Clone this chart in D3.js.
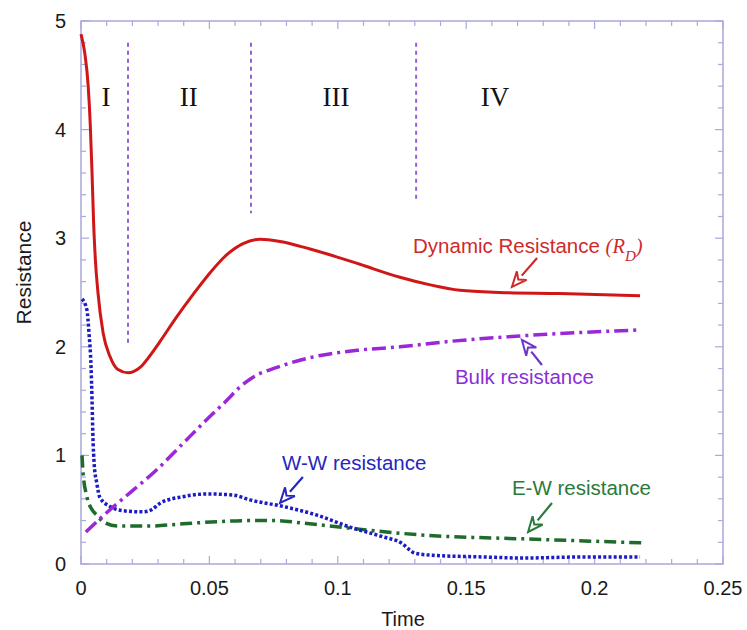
<!DOCTYPE html>
<html>
<head>
<meta charset="utf-8">
<script src="https://cdn.jsdelivr.net/npm/d3@7"></script>
<style>
  html, body { margin: 0; padding: 0; background: #fff; }
  svg { display: block; }
</style>
</head>
<body>
<svg id="chart" width="747" height="630"></svg>
<script>
// ---- data: time vs resistance for the four curves ----
const dynamicT = [0, 0.0015, 0.0028, 0.0036, 0.0043, 0.0049, 0.0056, 0.0066, 0.0086, 0.0113, 0.0144, 0.0183, 0.0230, 0.0269, 0.0308, 0.0374, 0.0436, 0.0502, 0.0569, 0.0631, 0.0697, 0.0775, 0.0892, 0.102, 0.1086, 0.1242, 0.136, 0.1476, 0.163, 0.1865, 0.2177];
const dynamicR = [4.88, 4.70, 4.40, 4.05, 3.60, 3.15, 2.80, 2.50, 2.13, 1.91, 1.79, 1.76, 1.81, 1.92, 2.05, 2.28, 2.48, 2.68, 2.85, 2.95, 2.99, 2.97, 2.90, 2.81, 2.76, 2.64, 2.57, 2.52, 2.50, 2.49, 2.47];

const bulkT = [0.0019, 0.0113, 0.0203, 0.0296, 0.0397, 0.049, 0.0569, 0.0619, 0.067, 0.0763, 0.0892, 0.1086, 0.1242, 0.1437, 0.171, 0.217];
const bulkR = [0.295, 0.50, 0.68, 0.87, 1.11, 1.33, 1.51, 1.63, 1.72, 1.81, 1.90, 1.97, 2.00, 2.05, 2.10, 2.155];

const wwT = [0.0004, 0.0023, 0.0031, 0.0039, 0.0043, 0.0046, 0.0052, 0.0061, 0.0074, 0.0113, 0.0164, 0.0243, 0.0275, 0.0308, 0.0397, 0.049, 0.0592, 0.0658, 0.0787, 0.0919, 0.1047, 0.1176, 0.125, 0.128, 0.130, 0.137, 0.1565, 0.172, 0.1955, 0.2177];
const wwR = [2.44, 2.34, 2.13, 1.82, 1.51, 1.21, 0.90, 0.75, 0.61, 0.53, 0.49, 0.48, 0.50, 0.56, 0.62, 0.645, 0.635, 0.59, 0.53, 0.45, 0.34, 0.25, 0.19, 0.13, 0.10, 0.08, 0.065, 0.055, 0.065, 0.065];

const ewT = [0.0004, 0.0008, 0.0023, 0.0043, 0.0062, 0.0086, 0.014, 0.0269, 0.0397, 0.053, 0.0658, 0.0763, 0.0853, 0.1047, 0.131, 0.174, 0.219];
const ewR = [1.0, 0.84, 0.62, 0.50, 0.45, 0.39, 0.35, 0.35, 0.37, 0.39, 0.40, 0.40, 0.38, 0.33, 0.27, 0.23, 0.195];

// stage boundaries (time) and stage names
const stageBounds = [0.0183, 0.0662, 0.1305];
const stageBoundBottoms = [2.0, 3.23, 3.35];
const stageNames = ["I", "II", "III", "IV"];
const stageNameT = [0.0097, 0.042, 0.0993, 0.1612];

// axis ticks
const xTicks = [0, 0.05, 0.1, 0.15, 0.2, 0.25];
const xTickLabels = ["0", "0.05", "0.1", "0.15", "0.2", "0.25"];
const yTicks = [0, 1, 2, 3, 4, 5];
const yTickLabels = ["0", "1", "2", "3", "4", "5"];

// ---- layout ----
const svg = d3.select("#chart");
const plot = { left: 81, right: 723, top: 21, bottom: 564 };

const x = d3.scaleLinear().domain([0, 0.25]).range([plot.left, plot.right]);
const y = d3.scaleLinear().domain([0, 5]).range([plot.bottom, plot.top]);

const axisColor = "#a9a9dc";
const sans = "'Liberation Sans', Arial, sans-serif";
const serif = "'Liberation Serif', 'Times New Roman', serif";

// frame
svg.append("rect")
  .attr("x", plot.left).attr("y", plot.top)
  .attr("width", plot.right - plot.left).attr("height", plot.bottom - plot.top)
  .attr("fill", "none").attr("stroke", axisColor).attr("stroke-width", 1.5);

// inward ticks on all four sides
const xMinor = d3.range(0, 0.2501, 0.01);
const yMinor = d3.range(0, 5.001, 0.2);
const tickG = svg.append("g").attr("stroke", axisColor).attr("stroke-width", 1.2);
xMinor.forEach((v, i) => {
  const major = i % 5 === 0;
  const len = major ? 8 : 5;
  tickG.append("line").attr("x1", x(v)).attr("x2", x(v)).attr("y1", plot.bottom).attr("y2", plot.bottom - len);
  tickG.append("line").attr("x1", x(v)).attr("x2", x(v)).attr("y1", plot.top).attr("y2", plot.top + len);
});
yMinor.forEach((v, i) => {
  const major = i % 5 === 0;
  const len = major ? 8 : 5;
  tickG.append("line").attr("y1", y(v)).attr("y2", y(v)).attr("x1", plot.left).attr("x2", plot.left + len);
  tickG.append("line").attr("y1", y(v)).attr("y2", y(v)).attr("x1", plot.right).attr("x2", plot.right - len);
});

// tick labels
svg.append("g").selectAll("text").data(xTicks).join("text")
  .attr("x", d => x(d)).attr("y", plot.bottom + 31)
  .attr("text-anchor", "middle")
  .attr("font-family", sans).attr("font-size", 20).attr("fill", "#1a1a1a")
  .text((d, i) => xTickLabels[i]);

svg.append("g").selectAll("text").data(yTicks).join("text")
  .attr("x", plot.left - 15).attr("y", d => y(d) + 7)
  .attr("text-anchor", "end")
  .attr("font-family", sans).attr("font-size", 20).attr("fill", "#1a1a1a")
  .text((d, i) => yTickLabels[i]);

// axis titles
svg.append("text")
  .attr("x", 403).attr("y", 626)
  .attr("text-anchor", "middle")
  .attr("font-family", sans).attr("font-size", 20).attr("fill", "#1a1a1a")
  .text("Time");

svg.append("text")
  .attr("transform", `translate(31, ${(plot.top + plot.bottom) / 2 - 20}) rotate(-90)`)
  .attr("text-anchor", "middle")
  .attr("font-family", sans).attr("font-size", 21).attr("fill", "#1a1a1a")
  .text("Resistance");

// stage boundaries
svg.append("g").selectAll("line").data(stageBounds).join("line")
  .attr("x1", d => x(d)).attr("x2", d => x(d))
  .attr("y1", y(4.80)).attr("y2", (d, i) => y(stageBoundBottoms[i]))
  .attr("stroke", "#9160d6").attr("stroke-width", 2)
  .attr("stroke-dasharray", "4,4");

svg.append("g").selectAll("text").data(stageNames).join("text")
  .attr("x", (d, i) => x(stageNameT[i])).attr("y", y(4.217))
  .attr("text-anchor", "middle")
  .attr("font-family", serif).attr("font-size", 27).attr("fill", "#111")
  .text(d => d);

// ---- curves ----
const line = d3.line().x(d => x(d[0])).y(d => y(d[1])).curve(d3.curveMonotoneX);
const zip = (a, b) => a.map((v, i) => [v, b[i]]);

svg.append("path").datum(zip(ewT, ewR)).attr("d", line)
  .attr("fill", "none").attr("stroke", "#1f6b2c").attr("stroke-width", 3.5)
  .attr("stroke-dasharray", "12,5,3,5");

svg.append("path").datum(zip(wwT, wwR)).attr("d", line)
  .attr("fill", "none").attr("stroke", "#1c1cc4").attr("stroke-width", 3.5)
  .attr("stroke-dasharray", "3,2.2");

svg.append("path").datum(zip(bulkT, bulkR)).attr("d", line)
  .attr("fill", "none").attr("stroke", "#9b27d8").attr("stroke-width", 3.5)
  .attr("stroke-dasharray", "14,5,3,5");

svg.append("path").datum(zip(dynamicT, dynamicR)).attr("d", line)
  .attr("fill", "none").attr("stroke", "#d01616").attr("stroke-width", 3);

// ---- annotations with hollow arrows ----
function arrow(tail, tip, color) {
  const x1 = x(tail[0]), y1 = y(tail[1]), x2 = x(tip[0]), y2 = y(tip[1]);
  const ang = Math.atan2(y2 - y1, x2 - x1);
  const L = 15, W = 6.5;
  const bx = x2 - L * Math.cos(ang), by = y2 - L * Math.sin(ang);
  const nx = -Math.sin(ang), ny = Math.cos(ang);
  const g = svg.append("g");
  g.append("line").attr("x1", x1).attr("y1", y1).attr("x2", bx).attr("y2", by)
    .attr("stroke", color).attr("stroke-width", 2.2);
  g.append("path")
    .attr("d", `M${x2},${y2} L${bx + nx * W},${by + ny * W} L${bx + 0.35 * (x2 - bx)},${by + 0.35 * (y2 - by)} L${bx - nx * W},${by - ny * W} Z`)
    .attr("fill", "#fff").attr("stroke", color).attr("stroke-width", 2).attr("stroke-linejoin", "miter");
}

// Dynamic resistance label
const dynLabel = svg.append("text")
  .attr("x", x(0.1293)).attr("y", y(2.864))
  .attr("font-family", sans).attr("font-size", 20.5).attr("fill", "#cf2a2a");
dynLabel.append("tspan").text("Dynamic Resistance ");
dynLabel.append("tspan").attr("font-family", serif).attr("font-style", "italic").text("(R");
dynLabel.append("tspan").attr("font-family", serif).attr("font-style", "italic")
  .attr("font-size", 15).attr("dy", 8).text("D");
dynLabel.append("tspan").attr("font-family", serif).attr("font-style", "italic")
  .attr("dy", -8).text(")");
arrow([0.1776, 2.818], [0.1678, 2.551], "#cf2a2a");

svg.append("text")
  .attr("x", x(0.1456)).attr("y", y(1.657))
  .attr("font-family", sans).attr("font-size", 20.5).attr("fill", "#8a2fd6")
  .text("Bulk resistance");
arrow([0.1795, 1.832], [0.1717, 2.063], "#6a35c8");

svg.append("text")
  .attr("x", x(0.0783)).attr("y", y(0.866))
  .attr("font-family", sans).attr("font-size", 20.5).attr("fill", "#2626c0")
  .text("W-W resistance");
arrow([0.0864, 0.801], [0.0775, 0.562], "#2626c0");

svg.append("text")
  .attr("x", x(0.1678)).attr("y", y(0.635))
  .attr("font-family", sans).attr("font-size", 20.5).attr("fill", "#2a7a3a")
  .text("E-W resistance");
arrow([0.1834, 0.562], [0.1741, 0.295], "#2a7a3a");
</script>
</body>
</html>
